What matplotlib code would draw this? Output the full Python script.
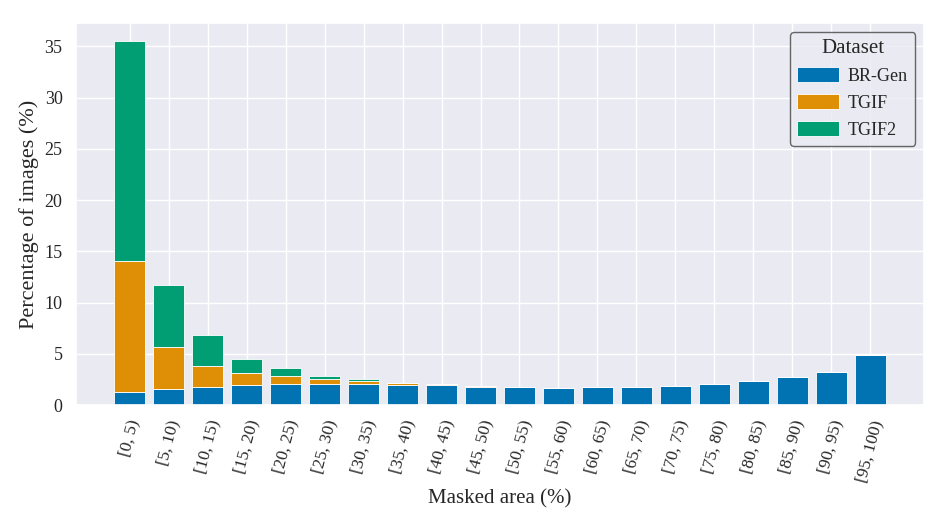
import matplotlib
matplotlib.use("Agg")
import matplotlib.pyplot as plt
import numpy as np
import seaborn as sns

sns.set_theme(style="darkgrid")
plt.rcParams['font.family'] = ['Liberation Serif', 'DejaVu Serif']

bins = ["[0, 5)", "[5, 10)", "[10, 15)", "[15, 20)", "[20, 25)", "[25, 30)",
        "[30, 35)", "[35, 40)", "[40, 45)", "[45, 50)", "[50, 55)", "[55, 60)",
        "[60, 65)", "[65, 70)", "[70, 75)", "[75, 80)", "[80, 85)", "[85, 90)",
        "[90, 95)", "[95, 100)"]
br_gen = [1.25, 1.55, 1.75, 1.95, 2.1, 2.05, 2.1, 2.0, 1.95, 1.8, 1.8, 1.7,
          1.8, 1.75, 1.85, 2.08, 2.3, 2.7, 3.22, 4.9]
tgif = [12.8, 4.15, 2.1, 1.15, 0.7, 0.45, 0.25, 0.15, 0.1, 0.03, 0.0, 0.0,
        0.0, 0.0, 0.0, 0.0, 0.0, 0.0, 0.0, 0.0]
tgif2 = [21.45, 6.05, 3.0, 1.35, 0.8, 0.35, 0.2, 0.03, 0.0, 0.0, 0.0, 0.0,
         0.0, 0.0, 0.0, 0.0, 0.0, 0.0, 0.0, 0.0]

colors = sns.color_palette("colorblind")
x = np.arange(len(bins))
br_gen = np.array(br_gen)
tgif = np.array(tgif)
tgif2 = np.array(tgif2)

fig, ax = plt.subplots(figsize=(9.47, 5.26), dpi=100)
kw = dict(width=0.8, edgecolor="white", linewidth=0.6)
ax.bar(x, br_gen, color=colors[0], label="BR-Gen", **kw)
ax.bar(x, tgif, bottom=br_gen, color=colors[1], label="TGIF", **kw)
ax.bar(x, tgif2, bottom=br_gen + tgif, color=colors[2], label="TGIF2", **kw)

ax.set_xticks(x)
ax.set_xticklabels(bins, rotation=75, fontsize=12.5)
ax.tick_params(axis="y", labelsize=13)
ax.set_ylim(bottom=0)
ax.set_xlabel("Masked area (%)", fontsize=15)
ax.set_ylabel("Percentage of images (%)", fontsize=16)

leg = ax.legend(title="Dataset", fontsize=13, title_fontsize=15,
                loc="upper right", frameon=True, fancybox=True,
                handletextpad=0.5, handlelength=2.3, handleheight=0.9)
leg.get_frame().set_edgecolor("#444444")
leg.get_frame().set_facecolor("#eaeaf2")

fig.subplots_adjust(left=0.080, right=0.976, top=0.956, bottom=0.23)
fig.savefig("out.png", dpi=100)
